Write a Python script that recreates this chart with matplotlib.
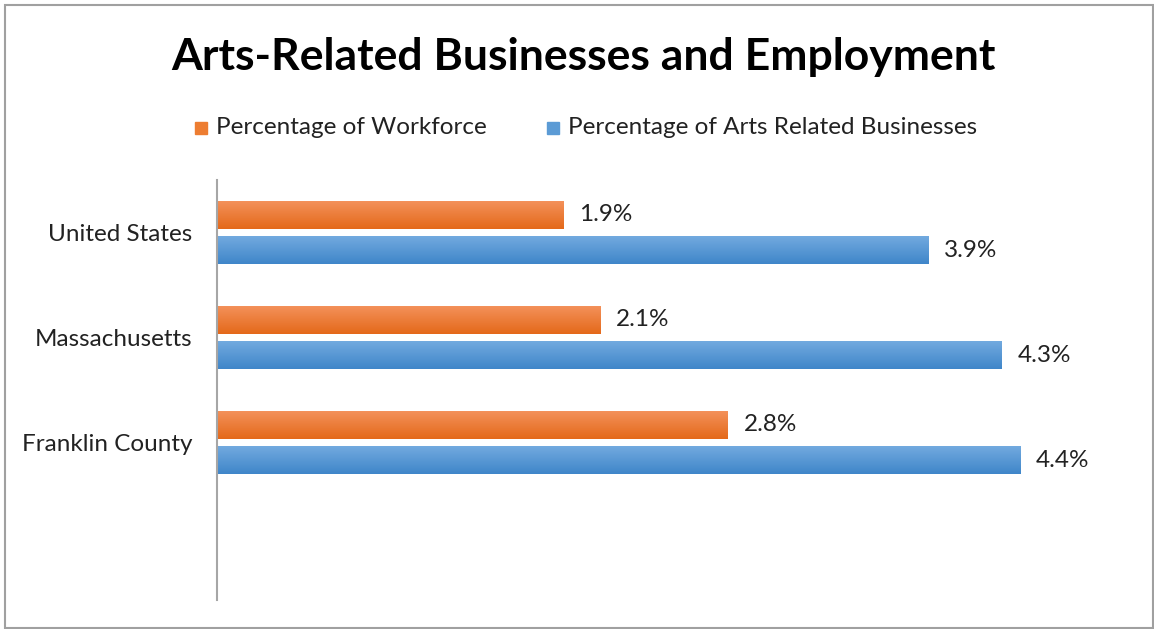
import numpy as np
import matplotlib.pyplot as plt
from matplotlib.patches import Rectangle

# Daten
regions = ['United States', 'Massachusetts', 'Franklin County']
workforce = [1.9, 2.1, 2.8]       # Percentage of Workforce
arts_business = [3.9, 4.3, 4.4]   # Percentage of Arts Related Businesses
series_names = ['Percentage of Workforce', 'Percentage of Arts Related Businesses']

font = 'Lato'
fs = 17.5
orange_top, orange_bot = '#F4925C', '#E4691A'
blue_top, blue_bot = '#74ABE0', '#3F86C9'

W, H = 1154, 629
fig = plt.figure(figsize=(W / 100, H / 100), dpi=100)
ax = fig.add_axes([217 / W, 1 - 600 / H, (1129.5 - 217) / W, 420 / H])

y = np.arange(len(regions))
off = 0.167
hgt = 0.267

bars_o = ax.barh(y - off, workforce, height=hgt, color='#ED7D31', edgecolor='none')
bars_b = ax.barh(y + off, arts_business, height=hgt, color='#5B9BD5', edgecolor='none')


def gradient(bars, c_top, c_bot):
    # vertikaler Farbverlauf je Balken
    top = np.array(plt.matplotlib.colors.to_rgb(c_top))
    bot = np.array(plt.matplotlib.colors.to_rgb(c_bot))
    t = np.linspace(0, 1, 64)[:, None]
    img = (top * (1 - t) + bot * t)[:, None, :]
    for b in bars:
        x0, y0 = b.get_x(), b.get_y()
        w, h = b.get_width(), b.get_height()
        im = ax.imshow(img, extent=(x0, x0 + w, y0 + h, y0), aspect='auto',
                       interpolation='bilinear', zorder=2)
        im.set_clip_path(b)


gradient(bars_o, orange_top, orange_bot)
gradient(bars_b, blue_top, blue_bot)

for bars, vals in [(bars_o, workforce), (bars_b, arts_business)]:
    for b, v in zip(bars, vals):
        ax.text(v + 0.085, b.get_y() + b.get_height() / 2, f'{v:.1f}%',
                va='center', ha='left', fontsize=fs, family=font, color='#222222')

ax.set_xlim(0, 5)
ax.set_ylim(3.5, -0.5)
ax.set_yticks(y)
ax.set_yticklabels(regions, fontsize=fs, family=font, color='#222222')
ax.tick_params(axis='y', length=0, pad=18)
ax.set_xticks([])
for s in ['top', 'right', 'bottom']:
    ax.spines[s].set_visible(False)
ax.spines['left'].set_color('#A6A6A6')
ax.spines['left'].set_linewidth(1.5)

# Titel
fig.text(583 / W, 1 - 57 / H, 'Arts-Related Businesses and Employment',
         ha='center', va='center', fontsize=32, fontweight='bold', family=font)

# Legende
leg_x = [195, 547]
for xi, name, col in zip(leg_x, series_names, ['#ED7D31', '#5B9BD5']):
    fig.patches.append(Rectangle((xi / W, 1 - 134 / H), 12 / W, 12 / H,
                                 transform=fig.transFigure, color=col))
    fig.text((xi + 21) / W, 1 - 128 / H, name, ha='left', va='center',
             fontsize=fs, family=font, color='#222222')

# Rahmen
fig.patches.append(Rectangle((5 / W, 1 - 628 / H), 1148 / W, 623 / H,
                             transform=fig.transFigure, fill=False,
                             edgecolor='#A0A0A0', linewidth=1.5))

fig.savefig('out.png', dpi=100)
